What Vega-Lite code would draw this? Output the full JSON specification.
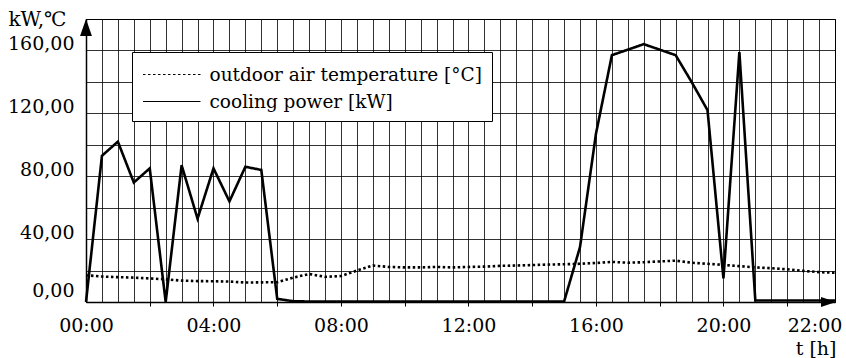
{
  "$schema": "https://vega.github.io/schema/vega-lite/v6.json",
  "width": 749,
  "height": 283,
  "autosize": {"type": "none"},
  "padding": {"left": 86, "top": 19, "right": 11, "bottom": 56},
  "background": "white",
  "config": {
    "font": "DejaVu Serif",
    "view": {"stroke": "black", "strokeWidth": 1}
  },
  "datasets": {
    "series": [
      {"t": 0, "series": "cooling power [kW]", "value": 0},
      {"t": 0.5, "series": "cooling power [kW]", "value": 93},
      {"t": 1, "series": "cooling power [kW]", "value": 102},
      {"t": 1.5, "series": "cooling power [kW]", "value": 76},
      {"t": 2, "series": "cooling power [kW]", "value": 85},
      {"t": 2.5, "series": "cooling power [kW]", "value": 0},
      {"t": 3, "series": "cooling power [kW]", "value": 87},
      {"t": 3.5, "series": "cooling power [kW]", "value": 53},
      {"t": 4, "series": "cooling power [kW]", "value": 85},
      {"t": 4.5, "series": "cooling power [kW]", "value": 64},
      {"t": 5, "series": "cooling power [kW]", "value": 86},
      {"t": 5.5, "series": "cooling power [kW]", "value": 84},
      {"t": 6, "series": "cooling power [kW]", "value": 2},
      {"t": 6.5, "series": "cooling power [kW]", "value": 0.5},
      {"t": 7, "series": "cooling power [kW]", "value": 0.3},
      {"t": 7.5, "series": "cooling power [kW]", "value": 0.3},
      {"t": 8, "series": "cooling power [kW]", "value": 0.3},
      {"t": 8.5, "series": "cooling power [kW]", "value": 0.3},
      {"t": 9, "series": "cooling power [kW]", "value": 0.3},
      {"t": 9.5, "series": "cooling power [kW]", "value": 0.3},
      {"t": 10, "series": "cooling power [kW]", "value": 0.3},
      {"t": 10.5, "series": "cooling power [kW]", "value": 0.3},
      {"t": 11, "series": "cooling power [kW]", "value": 0.3},
      {"t": 11.5, "series": "cooling power [kW]", "value": 0.3},
      {"t": 12, "series": "cooling power [kW]", "value": 0.3},
      {"t": 12.5, "series": "cooling power [kW]", "value": 0.3},
      {"t": 13, "series": "cooling power [kW]", "value": 0.3},
      {"t": 13.5, "series": "cooling power [kW]", "value": 0.3},
      {"t": 14, "series": "cooling power [kW]", "value": 0.3},
      {"t": 14.5, "series": "cooling power [kW]", "value": 0.3},
      {"t": 15, "series": "cooling power [kW]", "value": 0.3},
      {"t": 15.5, "series": "cooling power [kW]", "value": 35},
      {"t": 16, "series": "cooling power [kW]", "value": 107},
      {"t": 16.5, "series": "cooling power [kW]", "value": 157},
      {"t": 17, "series": "cooling power [kW]", "value": 160.5},
      {"t": 17.5, "series": "cooling power [kW]", "value": 164},
      {"t": 18, "series": "cooling power [kW]", "value": 160.5},
      {"t": 18.5, "series": "cooling power [kW]", "value": 157},
      {"t": 19, "series": "cooling power [kW]", "value": 140},
      {"t": 19.5, "series": "cooling power [kW]", "value": 122},
      {"t": 20, "series": "cooling power [kW]", "value": 15},
      {"t": 20.5, "series": "cooling power [kW]", "value": 159},
      {"t": 21, "series": "cooling power [kW]", "value": 1},
      {"t": 21.5, "series": "cooling power [kW]", "value": 1},
      {"t": 22, "series": "cooling power [kW]", "value": 1},
      {"t": 22.5, "series": "cooling power [kW]", "value": 1},
      {"t": 23, "series": "cooling power [kW]", "value": 1},
      {"t": 23.5, "series": "cooling power [kW]", "value": 1},
      {"t": 0, "series": "outdoor air temperature [°C]", "value": 17.0},
      {"t": 0.5, "series": "outdoor air temperature [°C]", "value": 16.2},
      {"t": 1, "series": "outdoor air temperature [°C]", "value": 15.8},
      {"t": 1.5, "series": "outdoor air temperature [°C]", "value": 15.5},
      {"t": 2, "series": "outdoor air temperature [°C]", "value": 15.0},
      {"t": 2.5, "series": "outdoor air temperature [°C]", "value": 14.4},
      {"t": 3, "series": "outdoor air temperature [°C]", "value": 13.6},
      {"t": 3.5, "series": "outdoor air temperature [°C]", "value": 13.3},
      {"t": 4, "series": "outdoor air temperature [°C]", "value": 13.2},
      {"t": 4.5, "series": "outdoor air temperature [°C]", "value": 13.0},
      {"t": 5, "series": "outdoor air temperature [°C]", "value": 12.4},
      {"t": 5.5, "series": "outdoor air temperature [°C]", "value": 12.5},
      {"t": 6, "series": "outdoor air temperature [°C]", "value": 12.6},
      {"t": 6.5, "series": "outdoor air temperature [°C]", "value": 15.5},
      {"t": 7, "series": "outdoor air temperature [°C]", "value": 17.8},
      {"t": 7.5, "series": "outdoor air temperature [°C]", "value": 16.0},
      {"t": 8, "series": "outdoor air temperature [°C]", "value": 16.5},
      {"t": 8.5, "series": "outdoor air temperature [°C]", "value": 20.0},
      {"t": 9, "series": "outdoor air temperature [°C]", "value": 23.2},
      {"t": 9.5, "series": "outdoor air temperature [°C]", "value": 22.3},
      {"t": 10, "series": "outdoor air temperature [°C]", "value": 22.0},
      {"t": 10.5, "series": "outdoor air temperature [°C]", "value": 22.0},
      {"t": 11, "series": "outdoor air temperature [°C]", "value": 22.3},
      {"t": 11.5, "series": "outdoor air temperature [°C]", "value": 22.0},
      {"t": 12, "series": "outdoor air temperature [°C]", "value": 22.3},
      {"t": 12.5, "series": "outdoor air temperature [°C]", "value": 22.5},
      {"t": 13, "series": "outdoor air temperature [°C]", "value": 23.0},
      {"t": 13.5, "series": "outdoor air temperature [°C]", "value": 23.2},
      {"t": 14, "series": "outdoor air temperature [°C]", "value": 23.5},
      {"t": 14.5, "series": "outdoor air temperature [°C]", "value": 23.8},
      {"t": 15, "series": "outdoor air temperature [°C]", "value": 24.0},
      {"t": 15.5, "series": "outdoor air temperature [°C]", "value": 24.3},
      {"t": 16, "series": "outdoor air temperature [°C]", "value": 24.8},
      {"t": 16.5, "series": "outdoor air temperature [°C]", "value": 25.5},
      {"t": 17, "series": "outdoor air temperature [°C]", "value": 25.0},
      {"t": 17.5, "series": "outdoor air temperature [°C]", "value": 25.3},
      {"t": 18, "series": "outdoor air temperature [°C]", "value": 25.8},
      {"t": 18.5, "series": "outdoor air temperature [°C]", "value": 26.3},
      {"t": 19, "series": "outdoor air temperature [°C]", "value": 25.0},
      {"t": 19.5, "series": "outdoor air temperature [°C]", "value": 24.3},
      {"t": 20, "series": "outdoor air temperature [°C]", "value": 23.6},
      {"t": 20.5, "series": "outdoor air temperature [°C]", "value": 22.8},
      {"t": 21, "series": "outdoor air temperature [°C]", "value": 22.0},
      {"t": 21.5, "series": "outdoor air temperature [°C]", "value": 21.5},
      {"t": 22, "series": "outdoor air temperature [°C]", "value": 20.8},
      {"t": 22.5, "series": "outdoor air temperature [°C]", "value": 19.8},
      {"t": 23, "series": "outdoor air temperature [°C]", "value": 19.0},
      {"t": 23.5, "series": "outdoor air temperature [°C]", "value": 18.6}
    ],
    "arrows": [
      {"t": 0, "value": 180, "axis": "y"},
      {"t": 23.5, "value": 0, "axis": "x"}
    ]
  },
  "layer": [
    {
      "data": {"name": "series"},
      "mark": {"type": "line", "color": "black", "strokeWidth": 2.6, "strokeCap": "butt"},
      "encoding": {
        "x": {
          "field": "t",
          "type": "quantitative",
          "scale": {"domain": [0, 23.5], "nice": false, "zero": false},
          "axis": {
            "values": [0,0.5,1,1.5,2,2.5,3,3.5,4,4.5,5,5.5,6,6.5,7,7.5,8,8.5,9,9.5,10,10.5,11,11.5,12,12.5,13,13.5,14,14.5,15,15.5,16,16.5,17,17.5,18,18.5,19,19.5,20,20.5,21,21.5,22,22.5,23,23.5],
            "tickCount": 500,
            "labelExpr": "(datum.value % 4 == 0 && datum.value <= 20) ? ((datum.value < 10 ? '0' : '') + datum.value + ':00') : (datum.value == 22 ? '22:00' : '')",
            "labelAlign": {"condition": {"test": "datum.value == 22", "value": "left"}, "value": "center"},
            "tickOpacity": {"condition": {"test": "datum.value % 2 == 0 && datum.value > 0", "value": 1}, "value": 0},
            "labelOverlap": false,
            "labelFlush": false,
            "labelBound": false,
            "labelFont": "DejaVu Serif",
            "labelFontSize": 19,
            "labelColor": "black",
            "labelBaseline": "alphabetic",
            "labelPadding": 25.5,
            "ticks": true,
            "tickSize": 4,
            "tickColor": "black",
            "tickWidth": 1,
            "domainColor": "black",
            "domainWidth": 1.5,
            "grid": true,
            "gridColor": "black",
            "gridWidth": 1,
            "gridOpacity": 0.8,
            "title": "t [h]",
            "titleFont": "DejaVu Serif",
            "titleFontSize": 19,
            "titleFontWeight": "normal",
            "titleColor": "black",
            "titleAlign": "right",
            "titleAnchor": "end",
            "titleBaseline": "alphabetic",
            "titleX": 750,
            "titleY": 52
          }
        },
        "y": {
          "field": "value",
          "type": "quantitative",
          "scale": {"domain": [0, 180], "nice": false},
          "axis": {
            "values": [0,20,40,60,80,100,120,140,160,180],
            "tickCount": 500,
            "labelExpr": "(datum.value % 40 == 0 && datum.value < 180) ? replace(format(datum.value, '.2f'), '.', ',') : ''",
            "labelOverlap": false,
            "labelFlush": false,
            "labelBound": false,
            "labelFont": "DejaVu Serif",
            "labelFontSize": 19,
            "labelColor": "black",
            "labelAlign": "right",
            "labelBaseline": "alphabetic",
            "labelPadding": 12,
            "labelOffset": {"condition": {"test": "datum.value == 0", "value": -6}, "value": -1},
            "ticks": false,
            "domainColor": "black",
            "domainWidth": 1.5,
            "grid": true,
            "gridColor": "black",
            "gridWidth": 1,
            "gridOpacity": 0.8,
            "title": "kW,℃",
            "titleFont": "DejaVu Serif",
            "titleFontSize": 20,
            "titleFontWeight": "normal",
            "titleColor": "black",
            "titleAngle": 0,
            "titleAlign": "left",
            "titleBaseline": "alphabetic",
            "titleX": -78,
            "titleY": 6
          }
        },
        "strokeDash": {
          "field": "series",
          "type": "nominal",
          "scale": {
            "domain": ["outdoor air temperature [°C]", "cooling power [kW]"],
            "range": [[2.5, 2.5], [1, 0]]
          },
          "legend": {
            "orient": "none",
            "legendX": 46,
            "legendY": 33,
            "direction": "vertical",
            "title": null,
            "fillColor": "white",
            "strokeColor": "black",
            "padding": 10,
            "cornerRadius": 0,
            "labelFont": "DejaVu Serif",
            "labelFontSize": 18.5,
            "labelColor": "black",
            "labelLimit": 600,
            "labelOffset": 42.5,
            "symbolType": "M-1,0H4",
            "symbolSize": 529,
            "symbolStrokeWidth": 1.2,
            "symbolStrokeColor": "black",
            "rowPadding": 5,
            "encode": {
              "symbols": {
                "update": {
                  "strokeDash": {"signal": "datum.value == 'outdoor air temperature [°C]' ? [1, 1] : [1, 0]"}
                }
              }
            }
          }
        }
      }
    },
    {
      "data": {"name": "arrows"},
      "transform": [{"filter": "datum.axis == 'y'"}],
      "mark": {"type": "point", "shape": "M0,0L0.7,2L-0.7,2Z", "size": 289, "filled": true, "color": "black", "opacity": 1, "strokeWidth": 0, "clip": false},
      "encoding": {
        "x": {"field": "t", "type": "quantitative"},
        "y": {"field": "value", "type": "quantitative"}
      }
    },
    {
      "data": {"name": "arrows"},
      "transform": [{"filter": "datum.axis == 'x'"}],
      "mark": {"type": "point", "shape": "M0,0L-2,-0.67L-2,0.67Z", "size": 225, "filled": true, "color": "black", "opacity": 1, "strokeWidth": 0, "xOffset": 1, "clip": false},
      "encoding": {
        "x": {"field": "t", "type": "quantitative"},
        "y": {"field": "value", "type": "quantitative"}
      }
    }
  ]
}
